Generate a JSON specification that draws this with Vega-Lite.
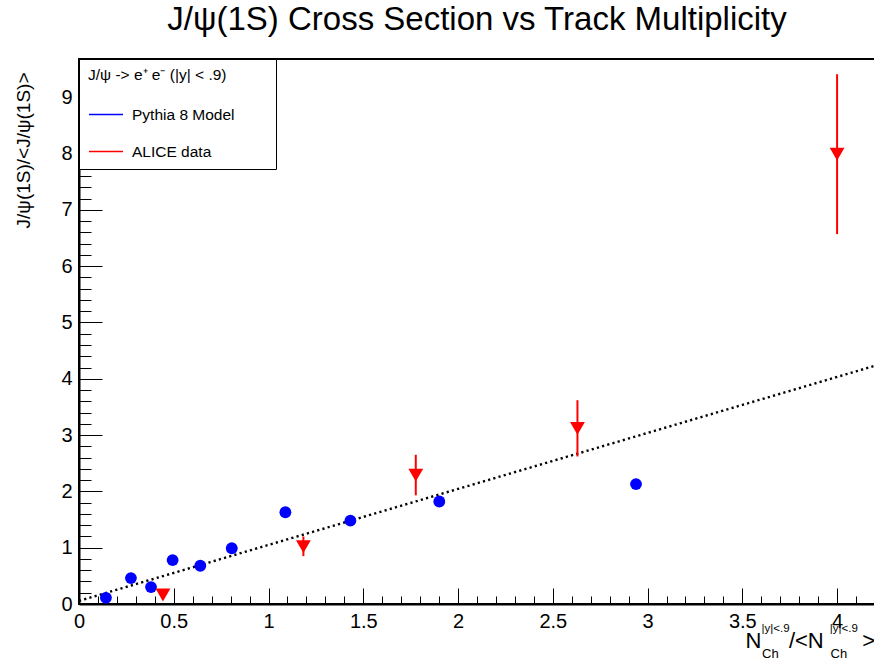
{
  "$schema": "https://vega.github.io/schema/vega-lite/v6.json",
  "width": 796,
  "height": 545,
  "autosize": {"type": "none"},
  "padding": {"left": 79, "top": 59, "right": 0, "bottom": 57},
  "background": "white",
  "title": {"text": "J/ψ(1S) Cross Section vs Track Multiplicity", "fontSize": 33, "font": "Liberation Sans", "fontWeight": "normal", "color": "black", "anchor": "middle", "frame": "group", "baseline": "alphabetic", "offset": -9},
  "config": {"font": "Liberation Sans", "view": {"stroke": "black", "strokeWidth": 2}, "axis": {"grid": false}},
  "datasets": {
    "fit": [{"x": 0, "y": 0.055}, {"x": 4.2, "y": 4.232}],
    "pythia": [
      {"x": 0.142, "y": 0.11}, {"x": 0.274, "y": 0.46}, {"x": 0.380, "y": 0.30}, {"x": 0.494, "y": 0.78},
      {"x": 0.640, "y": 0.68}, {"x": 0.806, "y": 0.99}, {"x": 1.089, "y": 1.63}, {"x": 1.432, "y": 1.48},
      {"x": 1.901, "y": 1.82}, {"x": 2.939, "y": 2.13}
    ],
    "alice": [
      {"x": 0.443, "y": 0.16, "lo": 0.10, "hi": 0.22, "series": "ALICE data"},
      {"x": 1.184, "y": 1.02, "lo": 0.85, "hi": 1.20, "series": "ALICE data"},
      {"x": 1.777, "y": 2.29, "lo": 1.93, "hi": 2.65, "series": "ALICE data"},
      {"x": 2.630, "y": 3.12, "lo": 2.62, "hi": 3.62, "series": "ALICE data"},
      {"x": 4.0, "y": 7.99, "lo": 6.57, "hi": 9.41, "series": "ALICE data"}
    ]
  },
  "layer": [
    {
      "data": {"name": "fit"},
      "mark": {"type": "line", "color": "black", "strokeWidth": 2.4, "strokeDash": [2.2, 3.2], "clip": true},
      "encoding": {
        "x": {"field": "x", "type": "quantitative", "scale": {"domain": [0, 4.2], "nice": false, "zero": false},
          "axis": {"orient": "bottom",
            "values": [0,0.1,0.2,0.3,0.4,0.5,0.6,0.7,0.8,0.9,1,1.1,1.2,1.3,1.4,1.5,1.6,1.7,1.8,1.9,2,2.1,2.2,2.3,2.4,2.5,2.6,2.7,2.8,2.9,3,3.1,3.2,3.3,3.4,3.5,3.6,3.7,3.8,3.9,4,4.1],
            "labelExpr": "abs(datum.value*2-round(datum.value*2))<0.001 ? ''+datum.value : ''",
            "labelFlush": false, "labelOverlap": false, "labelFontSize": 20, "labelColor": "black", "labelPadding": 23,
            "tickSize": {"condition": {"test": "abs(datum.value*2-round(datum.value*2))<0.001", "value": -16}, "value": -8},
            "tickColor": "black", "tickWidth": 1, "domainColor": "black", "domainWidth": 2, "grid": false,
            "title": "N\u2003\u2005/<N\u2003\u2002\u2005>",
            "titleFontSize": 22, "titleFontWeight": "normal", "titleColor": "black",
            "titleX": 666, "titleY": 43, "titleAlign": "left", "titleBaseline": "alphabetic", "titleAngle": 0}},
        "y": {"field": "y", "type": "quantitative", "scale": {"domain": [0, 9.68], "nice": false},
          "axis": {"orient": "left",
            "values": [0,0.2,0.4,0.6,0.8,1,1.2,1.4,1.6,1.8,2,2.2,2.4,2.6,2.8,3,3.2,3.4,3.6,3.8,4,4.2,4.4,4.6,4.8,5,5.2,5.4,5.6,5.8,6,6.2,6.4,6.6,6.8,7,7.2,7.4,7.6,7.8,8,8.2,8.4,8.6,8.8,9,9.2,9.4,9.6],
            "labelExpr": "abs(datum.value-round(datum.value))<0.001 ? ''+datum.value : ''",
            "labelFlush": false, "labelOverlap": false, "labelFontSize": 20, "labelColor": "black", "labelPadding": 30,
            "tickSize": {"condition": {"test": "abs(datum.value-round(datum.value))<0.001", "value": -23}, "value": -12},
            "tickColor": "black", "tickWidth": 1, "domainColor": "black", "domainWidth": 2, "grid": false,
            "title": "J/ψ(1S)/<J/ψ(1S)>",
            "titleFontSize": 19, "titleFontWeight": "normal", "titleColor": "black",
            "titleX": -49.5, "titleY": 13, "titleAlign": "right", "titleBaseline": "alphabetic", "titleAngle": 270}}
      }
    },
    {
      "data": {"name": "pythia"},
      "mark": {"type": "point", "shape": "circle", "filled": true, "color": "#0000ff", "opacity": 1, "size": 140},
      "encoding": {
        "x": {"field": "x", "type": "quantitative",
          "axis": {"orient": "top", "domain": false, "ticks": false, "labels": false, "grid": false,
            "title": "|y|<.9\u2003\u2003\u2003\u2002|y|<.9",
            "titleFontSize": 11.5, "titleFontWeight": "normal", "titleColor": "black",
            "titleX": 682, "titleY": 572, "titleAlign": "left", "titleBaseline": "alphabetic", "titleAngle": 0}},
        "y": {"field": "y", "type": "quantitative",
          "axis": {"orient": "right", "domain": false, "ticks": false, "labels": false, "grid": false,
            "title": "Ch\u2003\u2003\u2003\u2003Ch",
            "titleFontSize": 13, "titleFontWeight": "normal", "titleColor": "black",
            "titleX": -113.5, "titleY": 598.5, "titleAlign": "left", "titleBaseline": "alphabetic", "titleAngle": 0}}
      }
    },
    {
      "data": {"name": "alice"},
      "mark": {"type": "rule", "strokeWidth": 2},
      "encoding": {
        "x": {"field": "x", "type": "quantitative", "axis": null},
        "y": {"field": "lo", "type": "quantitative", "axis": null},
        "y2": {"field": "hi"},
        "color": {"field": "series", "type": "nominal",
          "scale": {"domain": ["Pythia 8 Model", "ALICE data"], "range": ["#0000ff", "#ff0000"]},
          "legend": {"title": "J/ψ -> e⁺ e⁻ (|y| < .9)\u2005\u2800\u2800\u2800", "orient": "none", "legendX": 0, "legendY": 0,
            "symbolType": "stroke", "symbolSize": 1156, "symbolStrokeWidth": 1.5, "clipHeight": 16,
            "titleFontSize": 15.5, "titleFontWeight": "normal", "titleColor": "black", "titleLimit": 400, "titlePadding": 23,
            "labelFontSize": 15.5, "labelColor": "black", "labelOffset": 8, "labelLimit": 300,
            "padding": 9, "rowPadding": 20, "strokeColor": "black", "fillColor": "white"}}
      }
    },
    {
      "data": {"name": "alice"},
      "mark": {"type": "point", "shape": "triangle-down", "filled": true, "color": "#ff0000", "opacity": 1, "size": 220},
      "encoding": {
        "x": {"field": "x", "type": "quantitative", "axis": null},
        "y": {"field": "y", "type": "quantitative", "axis": null}
      }
    }
  ],
  "resolve": {"axis": {"x": "independent", "y": "independent"}}
}
